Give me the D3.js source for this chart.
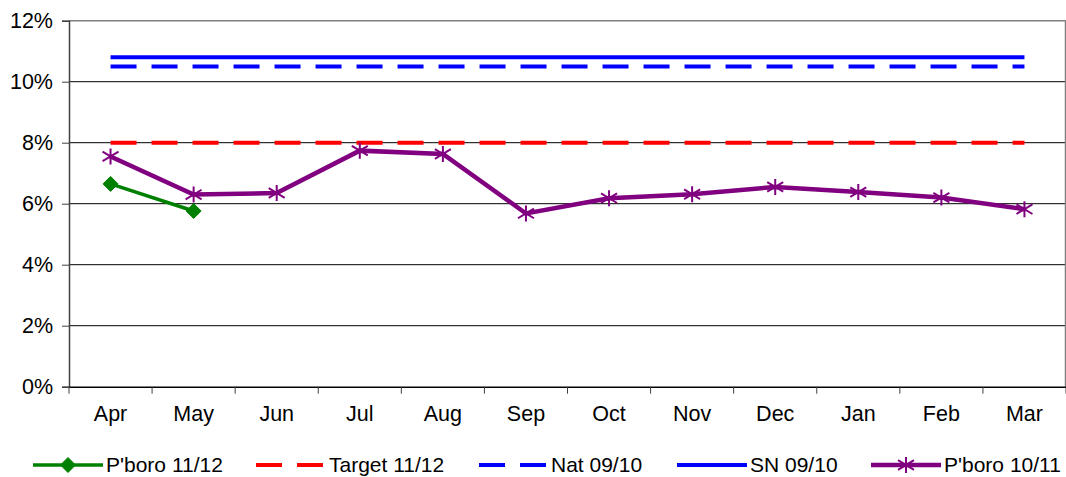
<!DOCTYPE html>
<html>
<script src='https://d3js.org/d3.v7.min.js'></script>
<style>
body {margin: 0; background: white;}
text {font-family: "Liberation Sans", Arial, sans-serif;}
</style>
<body>
<svg id="chart" width="1066" height="477"></svg>
<script>
// data (percent)
const months = ["Apr", "May", "Jun", "Jul", "Aug", "Sep", "Oct", "Nov", "Dec", "Jan", "Feb", "Mar"];
const pboro1112 = [6.65, 5.76];
const target1112 = [8, 8, 8, 8, 8, 8, 8, 8, 8, 8, 8, 8];
const nat0910 = [10.5, 10.5, 10.5, 10.5, 10.5, 10.5, 10.5, 10.5, 10.5, 10.5, 10.5, 10.5];
const sn0910 = [10.8, 10.8, 10.8, 10.8, 10.8, 10.8, 10.8, 10.8, 10.8, 10.8, 10.8, 10.8];
const pboro1011 = [7.55, 6.3, 6.35, 7.74, 7.63, 5.68, 6.18, 6.31, 6.55, 6.38, 6.2, 5.82];
const yTicks = [0, 2, 4, 6, 8, 10, 12];

const plotLeft = 69, plotRight = 1066, plotTop = 20.7, plotBottom = 386.7;
const fontSize = "21.5px";
const svg = d3.select("#chart");

var x = d3.scaleBand().domain(months).range([plotLeft, plotRight]);
var y = d3.scaleLinear().domain([0, 12]).range([plotBottom, plotTop]);
var cx = function(m) { return x(m) + x.bandwidth() / 2; };

// gridlines
svg.append("g")
.selectAll("line")
.data(yTicks.filter(function(t) { return t > 0 && t < 12; }))
.enter()
.append("line")
.attr("x1", plotLeft).attr("x2", plotRight)
.attr("y1", function(d) { return y(d); })
.attr("y2", function(d) { return y(d); })
.attr("stroke", "#000")
.attr("stroke-width", 1);

// plot border top/right
svg.append("path")
.attr("d", "M" + plotLeft + "," + y(12) + "H" + (plotRight - 0.5) + "V" + plotBottom)
.attr("fill", "none")
.attr("stroke", "#808080")
.attr("stroke-width", 1.5);

// axes
var yAxis = svg.append("g")
.attr("transform", "translate(" + plotLeft + ",0)")
.call(d3.axisLeft(y).tickValues(yTicks).tickSize(7).tickPadding(9).tickFormat(function(d) { return d + "%"; }));
yAxis.selectAll("text").style("font-size", fontSize).attr("fill", "#000");
yAxis.selectAll("line").attr("stroke", "#404040");
yAxis.select(".domain").attr("stroke", "#404040").attr("stroke-width", 1.5);

var xAxis = svg.append("g")
.attr("transform", "translate(0," + plotBottom + ")")
.call(d3.axisBottom(x).tickSize(0).tickPadding(19));
xAxis.selectAll("text").style("font-size", fontSize).attr("fill", "#000");
xAxis.select(".domain").attr("stroke", "#000").attr("stroke-width", 1.5);
// ticks on category boundaries
xAxis.selectAll(".bound")
.data(months.concat(["end"]))
.enter()
.append("line")
.attr("x1", function(d, i) { return plotLeft + i * x.bandwidth(); })
.attr("x2", function(d, i) { return plotLeft + i * x.bandwidth(); })
.attr("y1", 0).attr("y2", 7)
.attr("stroke", "#404040");

var line = d3.line()
.x(function(d, i) { return cx(months[i]); })
.y(function(d) { return y(d); });

function drawSeries(vals, color, width, dash) {
    svg.append("path")
    .datum(vals)
    .attr("d", line)
    .attr("fill", "none")
    .attr("stroke", color)
    .attr("stroke-width", width)
    .attr("stroke-dasharray", dash);
}

drawSeries(sn0910, "#0000ff", 4, null);
drawSeries(nat0910, "#0000ff", 4, "26,15");
drawSeries(target1112, "#ff0000", 4, "26,15");
drawSeries(pboro1011, "#800080", 4.5, null);
drawSeries(pboro1112, "#008000", 3.5, null);

function star(g, px, py) {
    var r = 8;
    g.append("path")
    .attr("d", "M" + px + "," + (py - r) + "V" + (py + r) +
        "M" + (px - r) + "," + (py - r * 0.6) + "L" + (px + r) + "," + (py + r * 0.6) +
        "M" + (px - r) + "," + (py + r * 0.6) + "L" + (px + r) + "," + (py - r * 0.6))
    .attr("stroke", "#800080")
    .attr("stroke-width", 2)
    .attr("fill", "none");
}
function diamond(g, px, py) {
    var r = 7.5;
    g.append("path")
    .attr("d", "M" + px + "," + (py - r) + "L" + (px + r) + "," + py + "L" + px + "," + (py + r) + "L" + (px - r) + "," + py + "Z")
    .attr("fill", "#008000")
    .attr("stroke", "#008000");
}

var markers = svg.append("g");
pboro1011.forEach(function(v, i) { star(markers, cx(months[i]), y(v)); });
pboro1112.forEach(function(v, i) { diamond(markers, cx(months[i]), y(v)); });

// legend
const ly = 465;
var legend = svg.append("g");
var items = [
    {name: "P'boro 11/12", color: "#008000", x1: 33, x2: 103, dash: null, w: 3.5, mark: "diamond"},
    {name: "Target 11/12", color: "#ff0000", x1: 256, x2: 326, dash: "26,15", w: 4, mark: null},
    {name: "Nat 09/10", color: "#0000ff", x1: 479, x2: 548, dash: "26,15", w: 4, mark: null},
    {name: "SN 09/10", color: "#0000ff", x1: 677, x2: 747, dash: null, w: 4, mark: null},
    {name: "P'boro 10/11", color: "#800080", x1: 871, x2: 941, dash: null, w: 4.5, mark: "star"}
];
items.forEach(function(it) {
    legend.append("line")
    .attr("x1", it.x1).attr("x2", it.x2)
    .attr("y1", ly).attr("y2", ly)
    .attr("stroke", it.color)
    .attr("stroke-width", it.w)
    .attr("stroke-dasharray", it.dash);
    if (it.mark == "diamond") diamond(legend, (it.x1 + it.x2) / 2, ly);
    if (it.mark == "star") star(legend, (it.x1 + it.x2) / 2, ly);
    legend.append("text")
    .attr("x", it.x2 + 3)
    .attr("y", ly)
    .attr("dy", "0.33em")
    .style("font-size", "21px")
    .text(it.name);
});
</script>
</body>
</html>
